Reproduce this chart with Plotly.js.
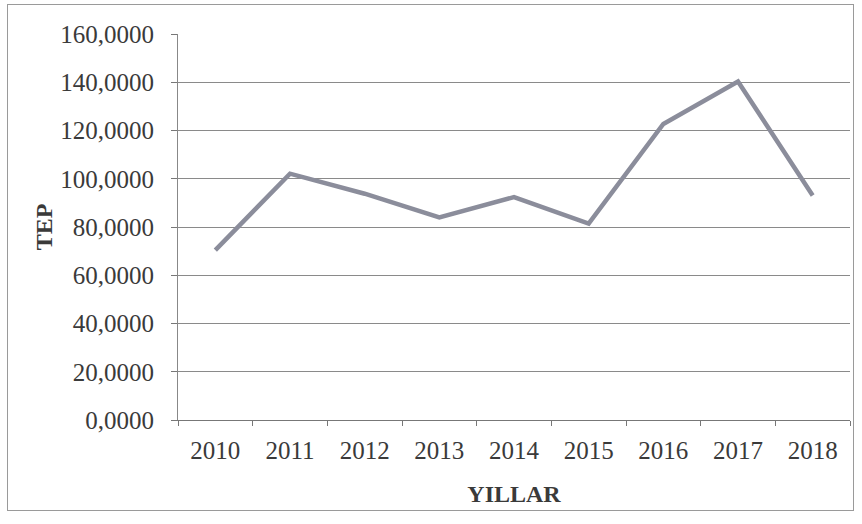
<!DOCTYPE html>
<html>
<head>
<meta charset="utf-8">
<script src="https://cdn.plot.ly/plotly-3.0.1.min.js"></script>
<style>
html,body{margin:0;padding:0;background:#fff;}
#wrap{position:relative;width:862px;height:524px;}
#frame{position:absolute;left:7px;top:4px;width:847px;height:507px;border:1px solid #9a9a9a;box-sizing:border-box;pointer-events:none;}
#chart{position:absolute;left:0;top:0;width:862px;height:524px;}
</style>
</head>
<body>
<div id="wrap"><div id="chart"></div><div id="frame"></div></div>
<script>
const years = ['2010','2011','2012','2013','2014','2015','2016','2017','2018'];
const tep = [70.4, 102.1, 93.8, 84.0, 92.4, 81.4, 122.7, 140.3, 93.1];
const yTickVals = [0,20,40,60,80,100,120,140,160];
const yTickText = ['0,0000','20,0000','40,0000','60,0000','80,0000','100,0000','120,0000','140,0000','160,0000'];

const ff = '"Liberation Serif","Times New Roman",serif';
const tc = '#3a3a3a';

Plotly.newPlot('chart', [{
  type:'scatter', mode:'lines', x:years, y:tep,
  line:{color:'#8b8d9b', width:4.5}, hoverinfo:'skip'
}], {
  width:862, height:524,
  margin:{l:178, r:12, t:34, b:104},
  paper_bgcolor:'#fff', plot_bgcolor:'#fff',
  showlegend:false,
  font:{family:ff, color:tc},
  xaxis:{
    type:'category', range:[-0.5, 8.5], tickson:'boundaries', ticks:'outside', ticklen:5, tickcolor:'#777',
    showline:true, linecolor:'#777', linewidth:1, showgrid:false,
    tickfont:{family:ff, size:25, color:tc},
    ticklabelstandoff:8,
    title:{text:'<b>YILLAR</b>', font:{family:ff, size:24, color:tc}, standoff:22},
    fixedrange:true
  },
  yaxis:{
    range:[0,160], tickvals:yTickVals, ticktext:yTickText,
    ticks:'outside', ticklen:6, tickcolor:'#777',
    showline:true, linecolor:'#888', linewidth:1,
    showgrid:true, gridcolor:'#8a8a8a', gridwidth:1, zeroline:false,
    tickfont:{family:ff, size:25, color:tc},
    ticklabelstandoff:12,
    title:{text:'<b>TEP</b>', font:{family:ff, size:24, color:tc}, standoff:0},
    fixedrange:true
  }
}, {displayModeBar:false, staticPlot:true});
</script>
</body>
</html>
